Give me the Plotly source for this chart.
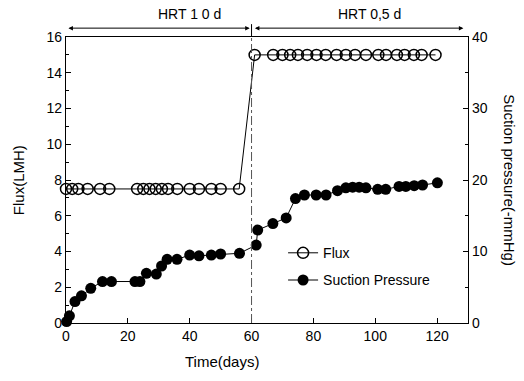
import plotly.graph_objects as go

# Flux data (LMH)
flux_days = [0, 2, 4, 7, 11, 14, 23, 25, 27, 29, 31, 33, 36, 40, 43, 47, 50, 56,
             61, 67, 70, 72.5, 75, 78, 81, 84, 87.5, 90.5, 93.5, 97, 101, 103.5, 107, 109.5, 112.5, 115, 119.5]
flux_vals = [7.5] * 18 + [15.0] * 19

# Suction pressure data (-mmHg)
suction_days = [0.2, 1.1, 2.9, 5, 8, 11.8, 14.7, 22.3, 23.9, 26, 29.2, 30.9, 32.7, 35.9, 40, 43, 47, 50, 56.1,
                61.5, 62, 66.9, 71.2, 74.2, 77.1, 80.9, 84.1, 87.8, 90.5, 92.7, 94.8, 97, 100.8, 103.4,
                107.7, 109.9, 112.6, 115.3, 120.1]
suction_vals = [0.2, 1.0, 3.0, 3.8, 4.85, 5.8, 5.8, 5.8, 5.8, 6.95, 6.85, 7.97, 8.9, 8.9, 9.5, 9.4, 9.5, 9.65, 9.75,
                10.9, 13.0, 13.9, 14.7, 17.4, 17.9, 17.9, 17.9, 18.5, 18.9, 19.0, 19.0, 18.9, 18.7, 18.7,
                19.1, 19.1, 19.2, 19.3, 19.6]

x_ticks = [0, 20, 40, 60, 80, 100, 120]
left_ticks = [0, 2, 4, 6, 8, 10, 12, 14, 16]
right_ticks = [0, 10, 20, 30, 40]

FONT = "Liberation Sans, Arial, sans-serif"

fig = go.Figure()
fig.add_trace(go.Scatter(
    x=flux_days, y=flux_vals, mode="lines+markers", name="Flux",
    line=dict(color="black", width=1),
    marker=dict(symbol="circle-open", size=11, color="black", line=dict(width=1.5)),
    cliponaxis=False, legendgroup="a",
))
fig.add_trace(go.Scatter(
    x=suction_days, y=suction_vals, mode="lines+markers", name="Suction Pressure",
    line=dict(color="black", width=1),
    marker=dict(symbol="circle", size=11, color="black"),
    yaxis="y2", cliponaxis=False, legendgroup="b",
))

fig.update_layout(
    width=524, height=381,
    margin=dict(l=66, r=56, t=37, b=58),
    paper_bgcolor="white", plot_bgcolor="white",
    font=dict(family=FONT, size=14, color="black"),
    showlegend=True,
    legend=dict(x=0.54, y=0.30, xanchor="left", yanchor="top", bgcolor="rgba(0,0,0,0)",
                font=dict(size=14), traceorder="grouped", tracegroupgap=6, itemwidth=30),
    xaxis=dict(range=[0, 130], tickvals=x_ticks, ticks="inside", ticklen=5, tickcolor="black",
               showline=True, linecolor="black", linewidth=1.2, mirror=True,
               showgrid=False, zeroline=False, tickfont=dict(size=14)),
    yaxis=dict(range=[0, 16], tickvals=left_ticks, ticks="inside", ticklen=5, tickcolor="black",
               showline=True, linecolor="black", linewidth=1.2,
               minor=dict(dtick=1, ticks="inside", ticklen=3, tickcolor="black"),
               showgrid=False, zeroline=False, tickfont=dict(size=14)),
    yaxis2=dict(range=[0, 40], tickvals=right_ticks, ticks="inside", ticklen=5, tickcolor="black",
                overlaying="y", side="right",
                showline=True, linecolor="black", linewidth=1.2,
                minor=dict(dtick=5, ticks="inside", ticklen=3, tickcolor="black"),
                showgrid=False, zeroline=False, tickfont=dict(size=14)),
)

# vertical dash-dot line at day 60
fig.add_shape(type="line", xref="x", yref="paper", x0=60, x1=60, y0=0, y1=1,
              line=dict(color="#555555", width=1, dash="dashdot"))
fig.add_shape(type="line", xref="x", yref="paper", x0=60, x1=60, y0=1, y1=1.045,
              line=dict(color="black", width=1))

# HRT arrows
for x0, x1 in [(0.3, 59.4), (60.6, 128.5)]:
    fig.add_annotation(x=x1, y=1.031, xref="x", yref="paper", ax=x0, ay=0,
                       axref="x", ayref="pixel", showarrow=True, arrowhead=2, arrowside="end+start",
                       arrowsize=0.9, arrowwidth=1, arrowcolor="black", text="")

fig.add_annotation(x=40, y=1.08, xref="x", yref="paper", text="HRT 1 0 d", showarrow=False,
                   font=dict(size=14), xanchor="center", yanchor="middle")
fig.add_annotation(x=98, y=1.08, xref="x", yref="paper", text="HRT 0,5 d", showarrow=False,
                   font=dict(size=14), xanchor="center", yanchor="middle")

# axis titles
fig.add_annotation(x=-0.119, y=0.5, xref="paper", yref="paper", text="Flux(LMH)", textangle=-90,
                   showarrow=False, font=dict(size=15), xanchor="center", yanchor="middle")
fig.add_annotation(x=1.104, y=0.5, xref="paper", yref="paper", text="Suction pressure(-mmHg)",
                   textangle=90, showarrow=False, font=dict(size=15), xanchor="center", yanchor="middle")
fig.add_annotation(x=0.388, y=-0.136, xref="paper", yref="paper", text="Time(days)",
                   showarrow=False, font=dict(size=15), xanchor="center", yanchor="middle")

fig.write_html("out.html")
